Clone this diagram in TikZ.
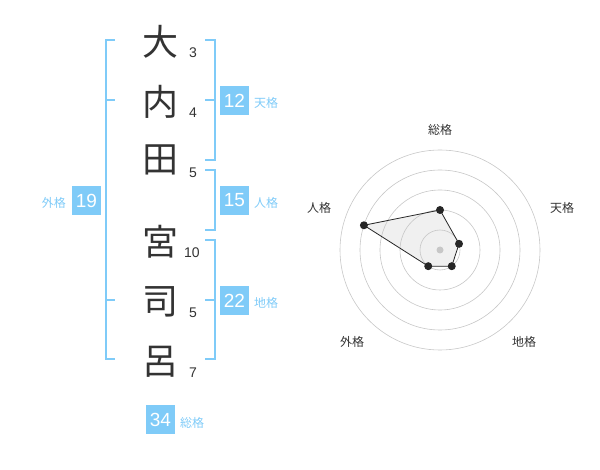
\documentclass[tikz,border=0pt]{standalone}
\usepackage{fontspec}
\setmainfont{Liberation Sans}
\newfontfamily\jpfont{Noto Sans CJK JP}
\usetikzlibrary{calc}
\definecolor{kakublue}{HTML}{7FCBF8}
\definecolor{inkgray}{HTML}{333333}

\begin{document}
\begin{tikzpicture}[x=1pt,y=-1pt,
  kanji/.style={font=\jpfont\fontsize{36}{36}\selectfont,text=inkgray,inner sep=0},
  strokes/.style={font=\fontsize{14}{14}\selectfont,text=inkgray,inner sep=0},
  kakubox/.style={fill=kakublue,text=white,font=\fontsize{19}{19}\selectfont,minimum width=29pt,minimum height=29pt,inner sep=0},
  kakuname/.style={font=\jpfont\fontsize{12}{12}\selectfont,text=kakublue,inner sep=0},
  bracket/.style={draw=kakublue,line width=2pt},
  ring/.style={draw=black!22,line width=0.6pt},
  radarlabel/.style={font=\jpfont\fontsize{12}{12}\selectfont,text=inkgray}]

\useasboundingbox (0,0) rectangle (600,470);

\node[kanji] (k1) at (160,42) {大};
\node[kanji] (k2) at (160,102) {内};
\node[kanji] (k3) at (160,160) {田};
\node[kanji] (k4) at (160,242) {宮};
\node[kanji] (k5) at (160,302) {司};
\node[kanji] (k6) at (160,362) {呂};

\node[strokes] (n1) at (193,53) {3};
\node[strokes] (n2) at (193,113) {4};
\node[strokes] (n3) at (193,173) {5};
\node[strokes] (n4) at (192,253) {10};
\node[strokes] (n5) at (193,313) {5};
\node[strokes] (n6) at (193,373) {7};

\draw[bracket] (115,40) -- (106,40) -- (106,359) -- (115,359);
\draw[bracket] (106,100) -- (115,100);
\draw[bracket] (106,300) -- (115,300);
\draw[bracket] (205,40) -- (215,40) -- (215,160) -- (205,160);
\draw[bracket] (215,100) -- (205,100);
\draw[bracket] (205,170) -- (215,170) -- (215,230) -- (205,230);
\draw[bracket] (205,240) -- (215,240) -- (215,359) -- (205,359);
\draw[bracket] (215,300) -- (205,300);

\node[kakubox] (ten) at (234.5,100.5) {12};
\node[kakuname,anchor=west] (tenl) at (254,103) {天格};
\node[kakubox] (jin) at (234.5,200.5) {15};
\node[kakuname,anchor=west] (jinl) at (254,203) {人格};
\node[kakubox] (chi) at (234.5,300.5) {22};
\node[kakuname,anchor=west] (chil) at (254,303) {地格};
\node[kakubox] (gai) at (86.5,200.5) {19};
\node[kakuname,anchor=east] (gail) at (66,203) {外格};
\node[kakubox] (sou) at (160.5,419.5) {34};
\node[kakuname,anchor=west] (soul) at (180,423) {総格};

\coordinate (O) at (440,250);
\coordinate (pSou) at ($(O)+(-90:40)$);
\coordinate (pTen) at ($(O)+(-18:20)$);
\coordinate (pChi) at ($(O)+(54:20)$);
\coordinate (pGai) at ($(O)+(126:20)$);
\coordinate (pJin) at ($(O)+(-162:80)$);

\fill[black!6] (pSou) -- (pTen) -- (pChi) -- (pGai) -- (pJin) -- cycle;
\foreach \r in {20,40,...,100}
  \draw[ring] (O) circle (\r);
\fill[black!22] (O) circle (3.5);
\draw[black!85,line width=0.8pt] (pSou) -- (pTen) -- (pChi) -- (pGai) -- (pJin) -- cycle;
\foreach \p in {pSou,pTen,pChi,pGai,pJin}
  \fill[black!85] (\p) circle (4);

\node[radarlabel] (rSou) at (440,130) {総格};
\node[radarlabel] (rTen) at (562,208) {天格};
\node[radarlabel] (rJin) at (319,208) {人格};
\node[radarlabel] (rGai) at (352,342) {外格};
\node[radarlabel] (rChi) at (524,342) {地格};

\end{tikzpicture}
\end{document}
